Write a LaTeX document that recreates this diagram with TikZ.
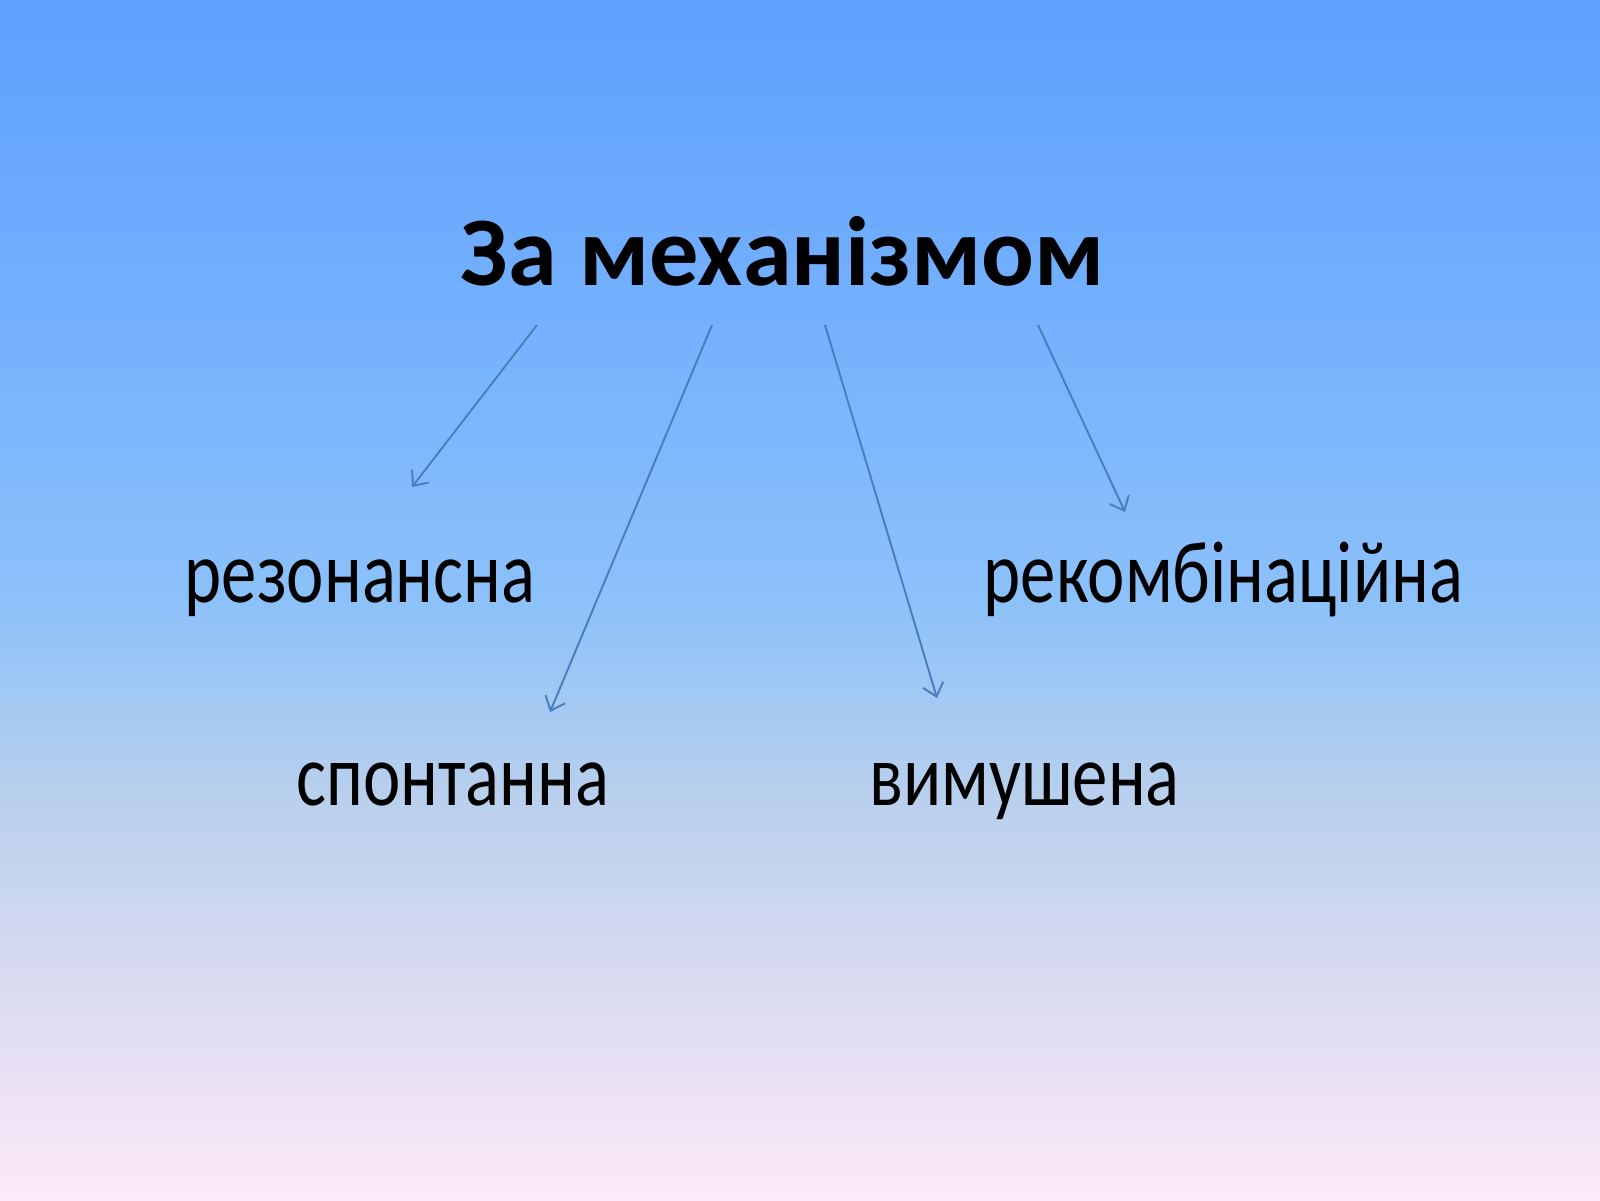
\documentclass[tikz,border=0pt]{standalone}
\usepackage{fontspec}
\setmainfont{Carlito}
\newfontfamily\kindfont{Carlito}[FakeStretch=0.805]
\usetikzlibrary{arrows.meta, positioning}
\definecolor{slidetop}{RGB}{94, 159, 255}
\definecolor{slideupper}{RGB}{122, 181, 253}
\definecolor{slidemid}{RGB}{140, 193, 250}
\definecolor{slidelower}{RGB}{186, 208, 236}
\definecolor{slidelow}{RGB}{220, 220, 241}
\definecolor{slidebottom}{RGB}{253, 233, 249}
\definecolor{arrowblue}{RGB}{74, 126, 187}
% stops between 25bp and 75bp are stretched over the path
\pgfdeclareverticalshading{slidebg}{100bp}{color(0bp)=(slidebottom); color(25bp)=(slidebottom); color(33.33bp)=(slidelow); color(41.67bp)=(slidelower); color(50bp)=(slidemid); color(58.33bp)=(slideupper); color(75bp)=(slidetop); color(100bp)=(slidetop)}

\begin{document}
\begin{tikzpicture}[
    heading/.style={inner sep=0pt, anchor=base west, font=\fontsize{28}{32}\selectfont\bfseries},
    kind/.style={inner sep=0pt, anchor=base west, font=\kindfont\fontsize{25}{30}\selectfont},
    branch/.style={-{Straight Barb[length=3.5pt, width=6pt]}, arrowblue, line width=0.55pt}
  ]
        % Background
        \shade[shading=slidebg] (0,0) rectangle (16,12);
        \useasboundingbox (0,0) rectangle (16,12);

        % Title
        \node[heading] (title) at (4.60,9.14) {За механізмом};

        % Kinds
        \node[kind] (resonant) at (1.84,5.98) {резонансна};
        \node[kind] (recomb) at (9.83,5.98) {рекомбінаційна};
        \node[kind] (spont) at (2.96,3.95) {спонтанна};
        \node[kind] (forced) at (8.69,3.95) {вимушена};

        % Arrow ends
        \coordinate (s1) at (5.37,8.75);
        \coordinate (e1) at (4.12,7.13);
        \coordinate (s2) at (7.12,8.75);
        \coordinate (e2) at (5.50,4.88);
        \coordinate (s3) at (8.25,8.75);
        \coordinate (e3) at (9.37,5.02);
        \coordinate (s4) at (10.38,8.75);
        \coordinate (e4) at (11.25,6.88);

        % Arrows
        \draw[branch] (s1) -- (e1);
        \draw[branch] (s2) -- (e2);
        \draw[branch] (s3) -- (e3);
        \draw[branch] (s4) -- (e4);
    \end{tikzpicture}
\end{document}
